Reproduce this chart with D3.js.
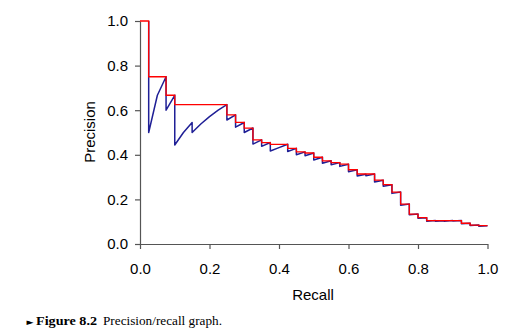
<!DOCTYPE html>
<html>
<head>
<meta charset="utf-8">
<script src="https://cdn.jsdelivr.net/npm/d3@7"></script>
<style>
  body { margin: 0; background: #fff; }
</style>
</head>
<body>
<div id="my_dataviz"></div>
<script>
// recall after each relevant document (40 relevant docs)
var recallLevels = [0.025, 0.05, 0.075, 0.1, 0.125, 0.15, 0.175, 0.2, 0.225, 0.25,
  0.275, 0.3, 0.325, 0.35, 0.375, 0.4, 0.425, 0.45, 0.475, 0.5,
  0.525, 0.55, 0.575, 0.6, 0.625, 0.65, 0.675, 0.7, 0.725, 0.75,
  0.775, 0.8, 0.825, 0.85, 0.875, 0.9, 0.925, 0.95, 0.975, 1.0];

// precision when the relevant doc is retrieved (top of each tooth)
var precisionAtHit = [1.0, 0.667, 0.75, 0.667, 0.5, 0.545, 0.538, 0.571, 0.6, 0.625,
  0.579, 0.545, 0.52, 0.467, 0.455, 0.432, 0.447, 0.429, 0.413, 0.408,
  0.389, 0.373, 0.365, 0.358, 0.333, 0.313, 0.314, 0.286, 0.266, 0.233,
  0.179, 0.134, 0.118, 0.105, 0.104, 0.105, 0.105, 0.093, 0.085, 0.082];

// precision just before the relevant doc (bottom of each tooth)
var precisionBeforeHit = [null, 0.5, 0.667, 0.6, 0.444, 0.5, 0.5, 0.538, 0.571, 0.6,
  0.556, 0.524, 0.5, 0.448, 0.438, 0.417, 0.432, 0.415, 0.4, 0.396,
  0.377, 0.362, 0.355, 0.348, 0.324, 0.305, 0.306, 0.278, 0.259, 0.227,
  0.174, 0.131, 0.115, 0.102, 0.102, 0.102, 0.103, 0.091, 0.083, 0.080];

// interpolated precision on each recall interval
var interpolatedPrecision = [1.0, 0.75, 0.75, 0.667, 0.625, 0.625, 0.625, 0.625, 0.625, 0.625,
  0.579, 0.545, 0.52, 0.467, 0.455, 0.447, 0.447, 0.429, 0.413, 0.408,
  0.389, 0.373, 0.365, 0.358, 0.333, 0.314, 0.314, 0.286, 0.266, 0.233,
  0.179, 0.134, 0.118, 0.105, 0.105, 0.105, 0.105, 0.093, 0.085, 0.082];

var xTicks = [0, 0.2, 0.4, 0.6, 0.8, 1.0];
var yTicks = [0, 0.2, 0.4, 0.6, 0.8, 1.0];

var xTitle = "Recall";
var yTitle = "Precision";
var captionLabel = "Figure 8.2";
var captionText = "Precision/recall graph.";

var fontAxis = "'Liberation Sans', Arial, sans-serif";
var fontCaption = "'Liberation Serif', 'Times New Roman', serif";

var svg = d3.select("#my_dataviz")
  .append("svg")
    .attr("width", 510)
    .attr("height", 334);

// scales
var x = d3.scaleLinear().domain([0, 1]).range([140, 487.5]);
var y = d3.scaleLinear().domain([0, 1]).range([244, 21]);

// ---------------------------//
//       AXES                 //
// ---------------------------//
var xAxis = svg.append("g")
  .attr("transform", "translate(0,244)")
  .call(d3.axisBottom(x).tickValues(xTicks).tickFormat(d3.format(".1f"))
    .tickSizeInner(5).tickSizeOuter(0).tickPadding(14));

var yAxis = svg.append("g")
  .attr("transform", "translate(140,0)")
  .call(d3.axisLeft(y).tickValues(yTicks).tickFormat(d3.format(".1f"))
    .tickSizeInner(5).tickSizeOuter(0).tickPadding(7));

[xAxis, yAxis].forEach(function(a) {
  a.select(".domain").attr("stroke", "#555").attr("stroke-width", 1.2);
  a.selectAll(".tick line").attr("stroke", "#555").attr("stroke-width", 1.2);
  a.selectAll(".tick text")
    .attr("fill", "#000")
    .attr("font-family", fontAxis)
    .attr("font-size", 15);
});

svg.append("text")
  .attr("x", 313)
  .attr("y", 300)
  .attr("text-anchor", "middle")
  .attr("font-family", fontAxis)
  .attr("font-size", 15)
  .text(xTitle);

svg.append("text")
  .attr("transform", "translate(95,132) rotate(-90)")
  .attr("text-anchor", "middle")
  .attr("font-family", fontAxis)
  .attr("font-size", 15)
  .text(yTitle);

// ---------------------------//
//       LINES                //
// ---------------------------//

// raw precision: sawtooth through every retrieved doc
var rawPoints = [[recallLevels[0], precisionAtHit[0]]];
for (var i = 1; i < recallLevels.length; i++) {
  rawPoints.push([recallLevels[i - 1], precisionBeforeHit[i]]);
  rawPoints.push([recallLevels[i], precisionAtHit[i]]);
}

// interpolated precision: step function
var stepPoints = [[0, interpolatedPrecision[0]]];
for (var j = 1; j < recallLevels.length; j++) {
  stepPoints.push([recallLevels[j - 1], interpolatedPrecision[j]]);
}
stepPoints.push([recallLevels[recallLevels.length - 1], interpolatedPrecision[interpolatedPrecision.length - 1]]);

var line = d3.line()
  .x(function(d) { return x(d[0]); })
  .y(function(d) { return y(d[1]); });

svg.append("path")
  .datum(rawPoints)
  .attr("fill", "none")
  .attr("stroke", "#1f1f96")
  .attr("stroke-width", 1.5)
  .attr("stroke-linejoin", "round")
  .attr("d", line);

svg.append("path")
  .datum(stepPoints)
  .attr("fill", "none")
  .attr("stroke", "#ff0000")
  .attr("stroke-width", 1.3)
  .attr("d", line.curve(d3.curveStepAfter));

// ---------------------------//
//       CAPTION              //
// ---------------------------//
svg.append("text")
  .attr("x", 26.5)
  .attr("y", 324.5)
  .attr("font-family", "'DejaVu Sans', sans-serif")
  .attr("font-size", 9)
  .text("\u25BA");

svg.append("text")
  .attr("x", 36)
  .attr("y", 325)
  .attr("font-family", fontCaption)
  .attr("font-weight", 700)
  .attr("font-size", 12)
  .attr("textLength", 61)
  .attr("lengthAdjust", "spacingAndGlyphs")
  .text(captionLabel);

svg.append("text")
  .attr("x", 103)
  .attr("y", 325)
  .attr("font-family", fontCaption)
  .attr("font-size", 12)
  .attr("textLength", 119)
  .attr("lengthAdjust", "spacingAndGlyphs")
  .text(captionText);
</script>
</body>
</html>
